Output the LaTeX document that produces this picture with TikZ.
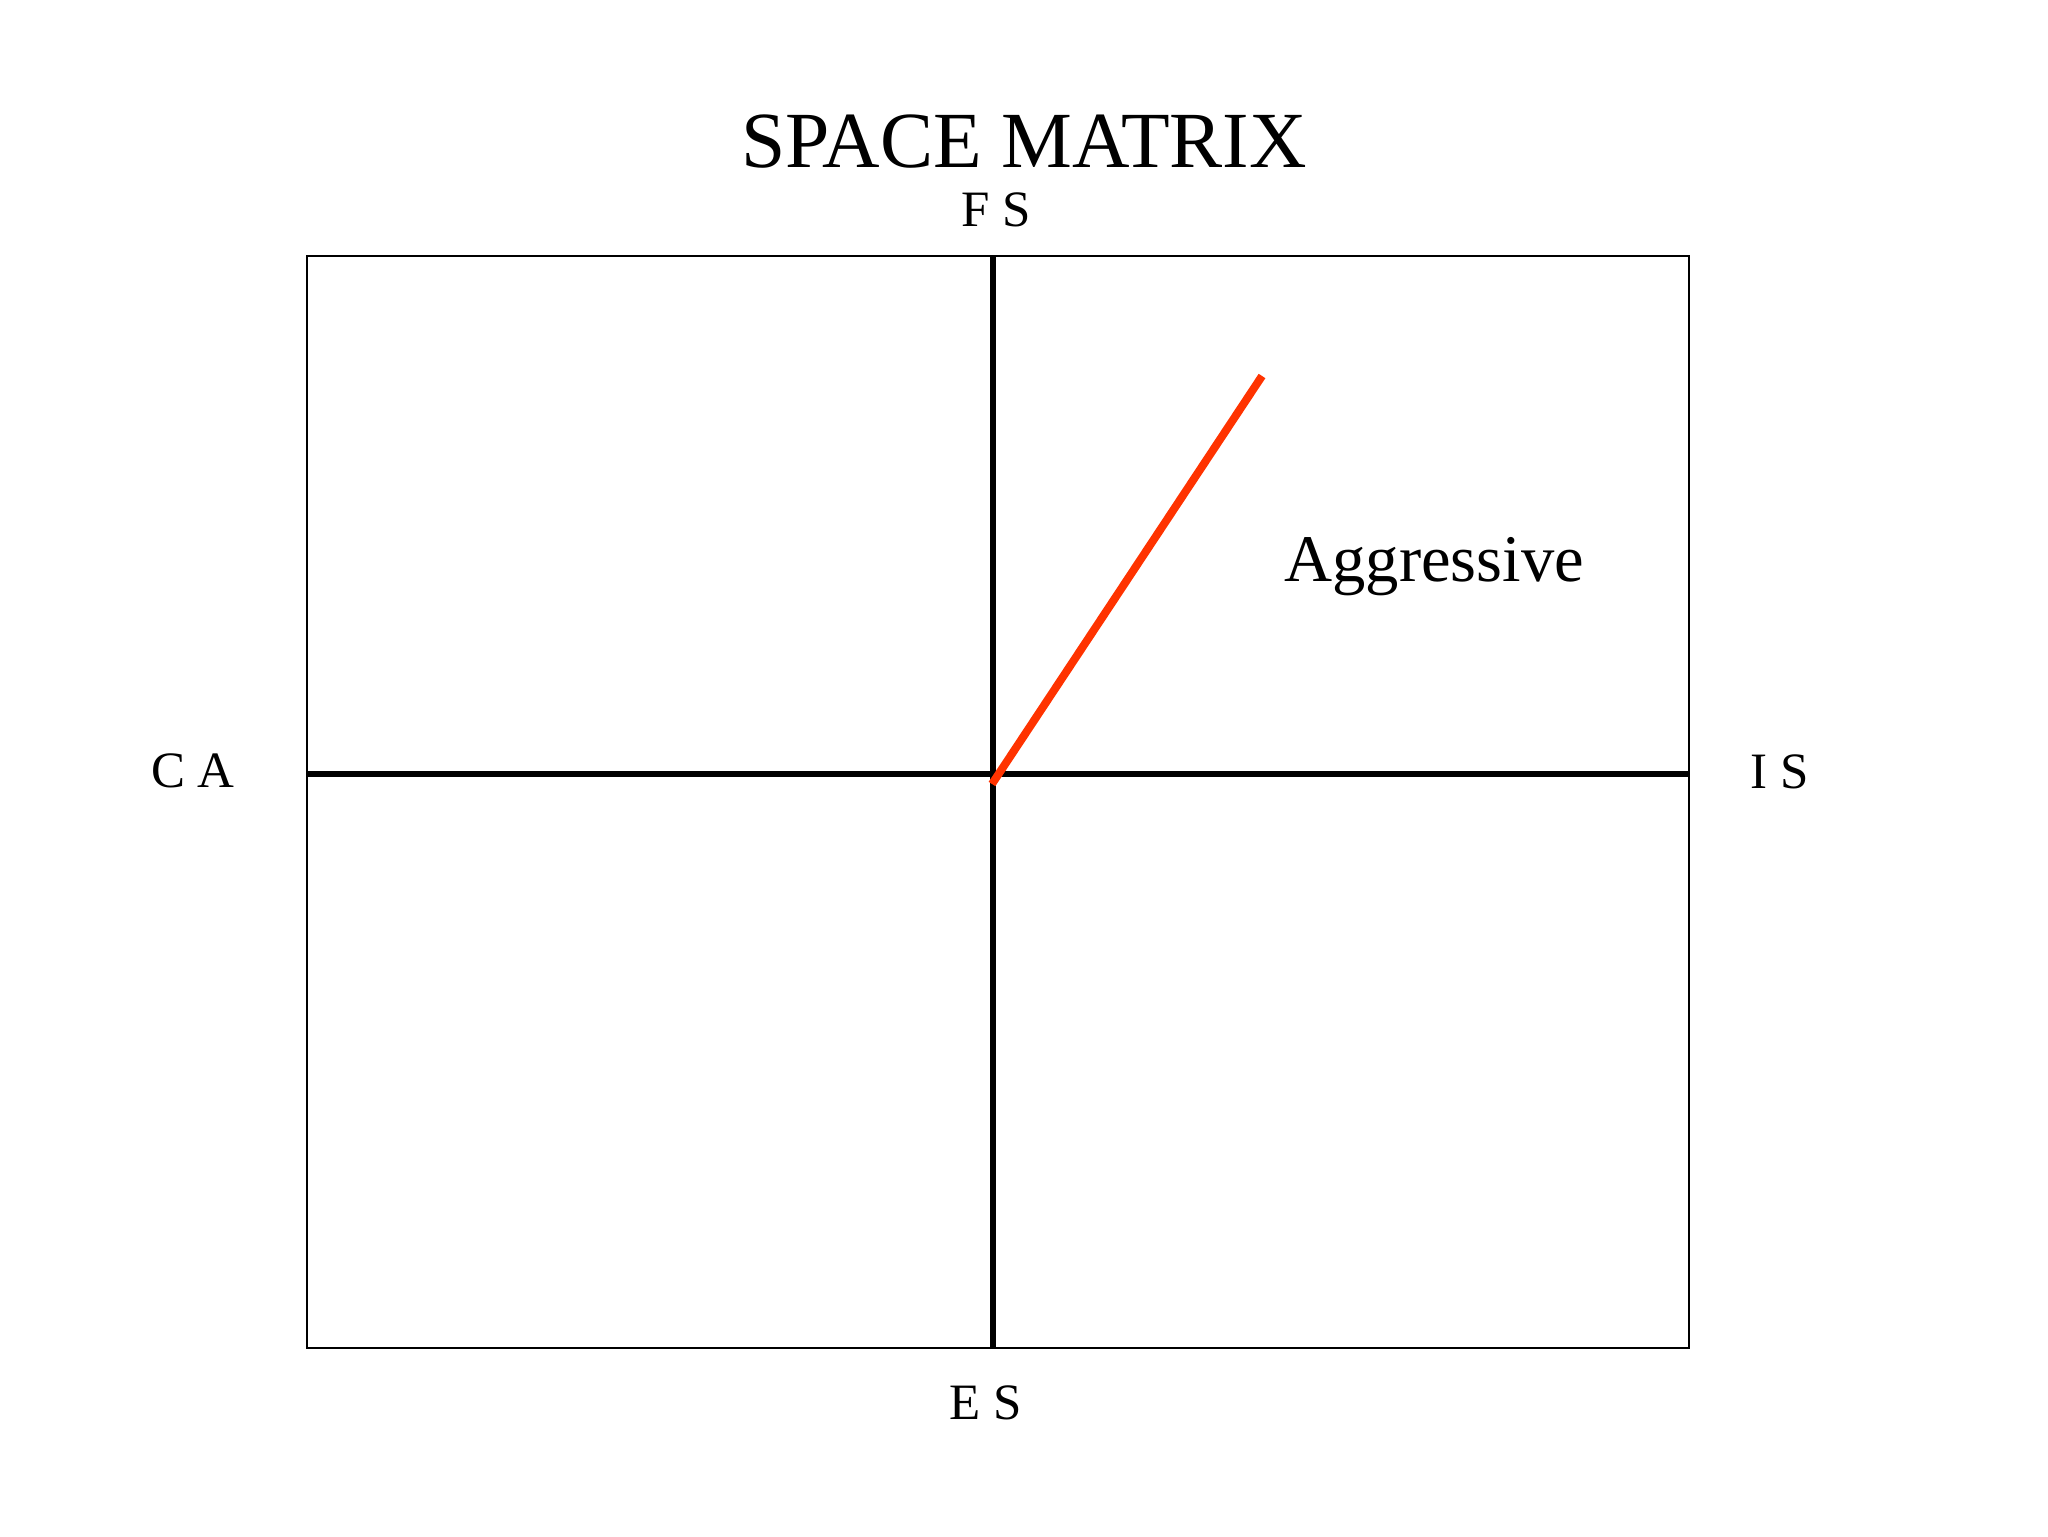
\documentclass[tikz,border=0pt]{standalone}
\usepackage{fontspec}
\setmainfont{Liberation Serif}
\definecolor{redline}{HTML}{FF3300}
\tikzset{
  lbl/.style={inner sep=0pt, anchor=base, font=\fontsize{25.5pt}{30pt}\selectfont},
  axis/.style={line width=3pt, black},
  frame/.style={line width=1pt, black},
}
\begin{document}
\begin{tikzpicture}[x=0.5pt,y=-0.5pt]
\useasboundingbox[fill=white] (0,0) rectangle (2048,1536);
\coordinate (tl) at (307,256);
\coordinate (br) at (1689,1348);
\coordinate (top) at (993,256);
\coordinate (bot) at (993,1348);
\coordinate (lft) at (307,774);
\coordinate (rgt) at (1689,774);
\coordinate (o) at (992,784);
\coordinate (e) at (1262,376);
\draw[frame] (tl) rectangle (br);
\draw[axis] (top) -- (bot);
\draw[axis] (lft) -- (rgt);
\draw[redline, line width=4pt] (o) -- (e);
\node[inner sep=0pt, anchor=base, font=\fontsize{39.8pt}{46pt}\selectfont] (title) at (1024,167) {SPACE MATRIX};
\node[lbl] (fs) at (996,226) {F S};
\node[lbl] (ca) at (193,787) {C A};
\node[lbl] (is) at (1780,788) {I S};
\node[lbl] (es) at (986,1419) {E S};
\node[inner sep=0pt, anchor=base west, font=\fontsize{33.3pt}{40pt}\selectfont] (agg) at (1284,581) {Aggressive};
\end{tikzpicture}
\end{document}
